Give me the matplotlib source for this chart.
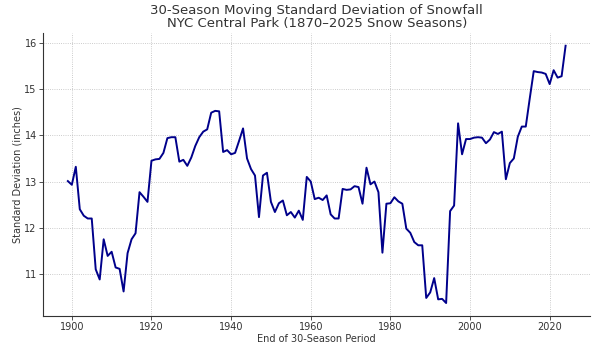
import matplotlib
matplotlib.use("Agg")
import matplotlib.pyplot as plt

# end year of each 30-season window
years = list(range(1899, 2025))

# moving std dev of seasonal snowfall, inches
std_dev = [
    13.01, 12.93, 13.32, 12.40, 12.26, 12.20, 12.20, 11.10, 10.88, 11.75,  # 1899-1908
    11.39, 11.48, 11.14, 11.11, 10.62, 11.45, 11.75, 11.88, 12.77, 12.67,  # 1909-1918
    12.56, 13.45, 13.48, 13.49, 13.62, 13.94, 13.96, 13.96, 13.43, 13.47,  # 1919-1928
    13.34, 13.52, 13.77, 13.96, 14.08, 14.13, 14.49, 14.53, 14.52, 13.64,  # 1929-1938
    13.68, 13.59, 13.62, 13.88, 14.15, 13.50, 13.27, 13.13, 12.23, 13.13,  # 1939-1948
    13.19, 12.56, 12.34, 12.53, 12.59, 12.27, 12.34, 12.22, 12.37, 12.17,  # 1949-1958
    13.10, 13.00, 12.62, 12.65, 12.60, 12.70, 12.29, 12.20, 12.20, 12.84,  # 1959-1968
    12.82, 12.83, 12.90, 12.88, 12.52, 13.30, 12.94, 13.00, 12.77, 11.46,  # 1969-1978
    12.52, 12.53, 12.66, 12.57, 12.52, 11.98, 11.89, 11.69, 11.62, 11.62,  # 1979-1988
    10.48, 10.60, 10.91, 10.45, 10.46, 10.37, 12.36, 12.48, 14.26, 13.59,  # 1989-1998
    13.92, 13.92, 13.95, 13.96, 13.95, 13.83, 13.91, 14.07, 14.03, 14.08,  # 1999-2008
    13.05, 13.40, 13.50, 13.97, 14.19, 14.19, 14.80, 15.39, 15.37, 15.36,  # 2009-2018
    15.33, 15.11, 15.41, 15.25, 15.28, 15.94,                              # 2019-2024
]

fig, ax = plt.subplots(figsize=(6.05, 3.46), dpi=100)

ax.plot(years, std_dev, color="#00008b", linewidth=1.4)

ax.set_title("30-Season Moving Standard Deviation of Snowfall\n"
             "NYC Central Park (1870\u20132025 Snow Seasons)",
             fontsize=9.5, color="#333333", linespacing=1.0, pad=4)
ax.set_xlabel("End of 30-Season Period", fontsize=7, color="#333333", labelpad=1)
ax.set_ylabel("Standard Deviation (inches)", fontsize=7, color="#333333", labelpad=1)

ax.set_xticks([1900, 1920, 1940, 1960, 1980, 2000, 2020])
ax.set_yticks([11, 12, 13, 14, 15, 16])
ax.tick_params(labelsize=7, colors="#333333", length=3, width=0.6, pad=1.5)

ax.grid(True, linestyle=":", linewidth=0.6, color="#bbbbbb")
for side in ["top", "right"]:
    ax.spines[side].set_visible(False)
for side in ["left", "bottom"]:
    ax.spines[side].set_linewidth(0.8)
    ax.spines[side].set_color("#333333")

fig.subplots_adjust(left=0.071, right=0.976, top=0.905, bottom=0.087)
fig.savefig("out.png", dpi=100)
